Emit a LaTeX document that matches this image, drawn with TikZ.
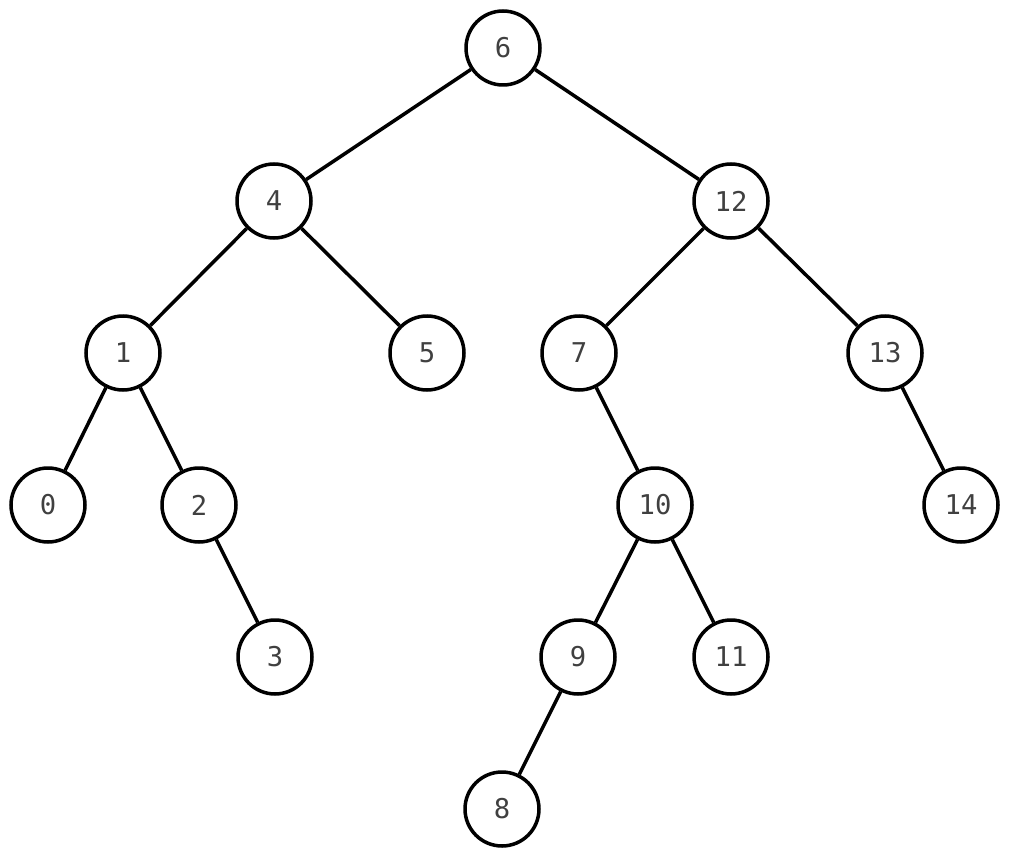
\documentclass[tikz,border=0pt]{standalone}
\usepackage{fontspec}
\newfontfamily\treefont{DejaVu Sans Mono}
\definecolor{keygray}{HTML}{404040}
\tikzset{
	key/.style={draw, circle, line width=2pt, minimum size=1.48cm, inner sep=0pt, font=\treefont\fontsize{15.5}{18}\selectfont, text=keygray},
	edge/.style={line width=2pt}
}
\begin{document}
\begin{tikzpicture}[x=0.02cm, y=-0.02cm]
	\useasboundingbox (0,0) rectangle (1010,851);

	% nodes
	\node[key] (n6) at (503,48) {6};
	\node[key] (n4) at (274,201) {4};
	\node[key] (n12) at (731,201) {12};
	\node[key] (n1) at (123,353) {1};
	\node[key] (n5) at (427,353) {5};
	\node[key] (n7) at (579,353) {7};
	\node[key] (n13) at (885,353) {13};
	\node[key] (n0) at (48,505) {0};
	\node[key] (n2) at (199,505) {2};
	\node[key] (n10) at (655,505) {10};
	\node[key] (n14) at (961,505) {14};
	\node[key] (n3) at (275,657) {3};
	\node[key] (n9) at (578,657) {9};
	\node[key] (n11) at (731,657) {11};
	\node[key] (n8) at (502,809) {8};

	% edges
	\draw[edge] (n6) -- (n4);
	\draw[edge] (n6) -- (n12);
	\draw[edge] (n4) -- (n1);
	\draw[edge] (n4) -- (n5);
	\draw[edge] (n12) -- (n7);
	\draw[edge] (n12) -- (n13);
	\draw[edge] (n1) -- (n0);
	\draw[edge] (n1) -- (n2);
	\draw[edge] (n2) -- (n3);
	\draw[edge] (n7) -- (n10);
	\draw[edge] (n13) -- (n14);
	\draw[edge] (n10) -- (n9);
	\draw[edge] (n10) -- (n11);
	\draw[edge] (n9) -- (n8);

\end{tikzpicture}
\end{document}
